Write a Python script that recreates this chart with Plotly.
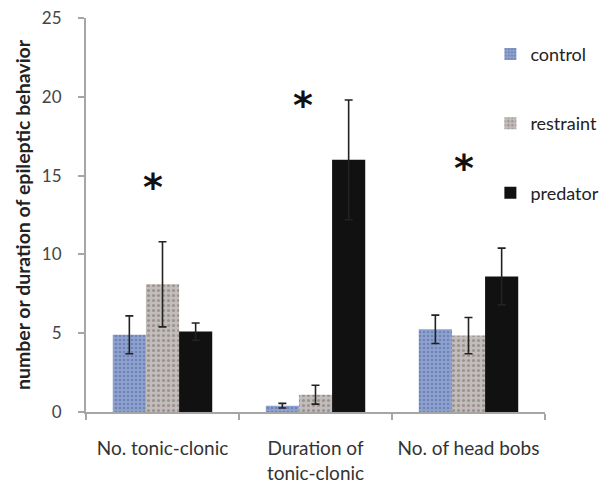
import plotly.graph_objects as go

categories = ["No. tonic-clonic", "Duration of<br>tonic-clonic", "No. of head bobs"]
series_names = ["control", "restraint", "predator"]
control_vals = [4.9, 0.4, 5.25]
control_err = [1.2, 0.15, 0.9]
restraint_vals = [8.1, 1.1, 4.85]
restraint_err = [2.7, 0.6, 1.15]
predator_vals = [5.1, 16.0, 8.6]
predator_err = [0.55, 3.8, 1.8]
star_y = [14.3, 19.5, 15.5]
star_shift = [-10, -13, -5]
y_ticks = [0, 5, 10, 15, 20, 25]

FONT = "Lato"

styles = [
    dict(color="#8499c9", pattern=dict(shape=".", fgcolor="#4f6499", bgcolor="#8ea2cf", size=4, solidity=0.35)),
    dict(color="#b9b2b0", pattern=dict(shape=".", fgcolor="#6f6866", bgcolor="#c2bcba", size=5, solidity=0.3)),
    dict(color="#111111"),
]

fig = go.Figure()
for i, (name, vals, errs) in enumerate(zip(series_names,
                                          [control_vals, restraint_vals, predator_vals],
                                          [control_err, restraint_err, predator_err])):
    fig.add_trace(go.Bar(
        x=categories, y=vals, name=name, legendgroup=name,
        marker=dict(line=dict(width=0), **styles[i]),
        error_y=dict(type="data", array=errs, visible=True, color="#222222",
                     thickness=1.6, width=4),
    ))

for c, y, s in zip(categories, star_y, star_shift):
    fig.add_annotation(x=c, y=y, text="<b>*</b>", showarrow=False, xshift=s,
                       font=dict(family="DejaVu Sans", size=38, color="#111"),
                       yanchor="middle")

# page body has an 8px default margin; figure size/margins compensate for it
fig.update_layout(
    width=600, height=474,
    margin=dict(l=78, r=63, t=10, b=70, autoexpand=False),
    paper_bgcolor="white", plot_bgcolor="white",
    barmode="group", bargap=0.35, bargroupgap=0,
    font=dict(family=FONT, color="#333"),
    legend=dict(x=0.881, y=0.955, xanchor="left", yanchor="top",
                traceorder="grouped", tracegroupgap=43,
                font=dict(size=18, family=FONT, color="#222"),
                bgcolor="rgba(0,0,0,0)", itemwidth=30),
    showlegend=True,
)
fig.update_xaxes(
    automargin=False, tickangle=0,
    showline=True, linecolor="#a6a6a6", linewidth=2,
    ticks="outside", tickson="boundaries", ticklen=6, tickcolor="#a6a6a6", tickwidth=1.5,
    tickfont=dict(size=19, family=FONT, color="#333"),
    ticklabelstandoff=18,
)
fig.update_yaxes(
    automargin=False, ticklabeloverflow="allow",
    range=[0, 25], tickvals=y_ticks, showgrid=False, zeroline=False,
    showline=True, linecolor="#a6a6a6", linewidth=2,
    ticks="outside", ticklen=6, tickcolor="#a6a6a6", tickwidth=1.5,
    tickfont=dict(size=17, family=FONT, color="#444"),
    ticklabelstandoff=13,
    title=dict(text="\u00a0\u00a0\u00a0\u00a0<b>number or duration of epileptic behavior</b>",
               font=dict(size=19.5, family=FONT, color="#222"), standoff=6),
)

fig.write_html("out.html")
